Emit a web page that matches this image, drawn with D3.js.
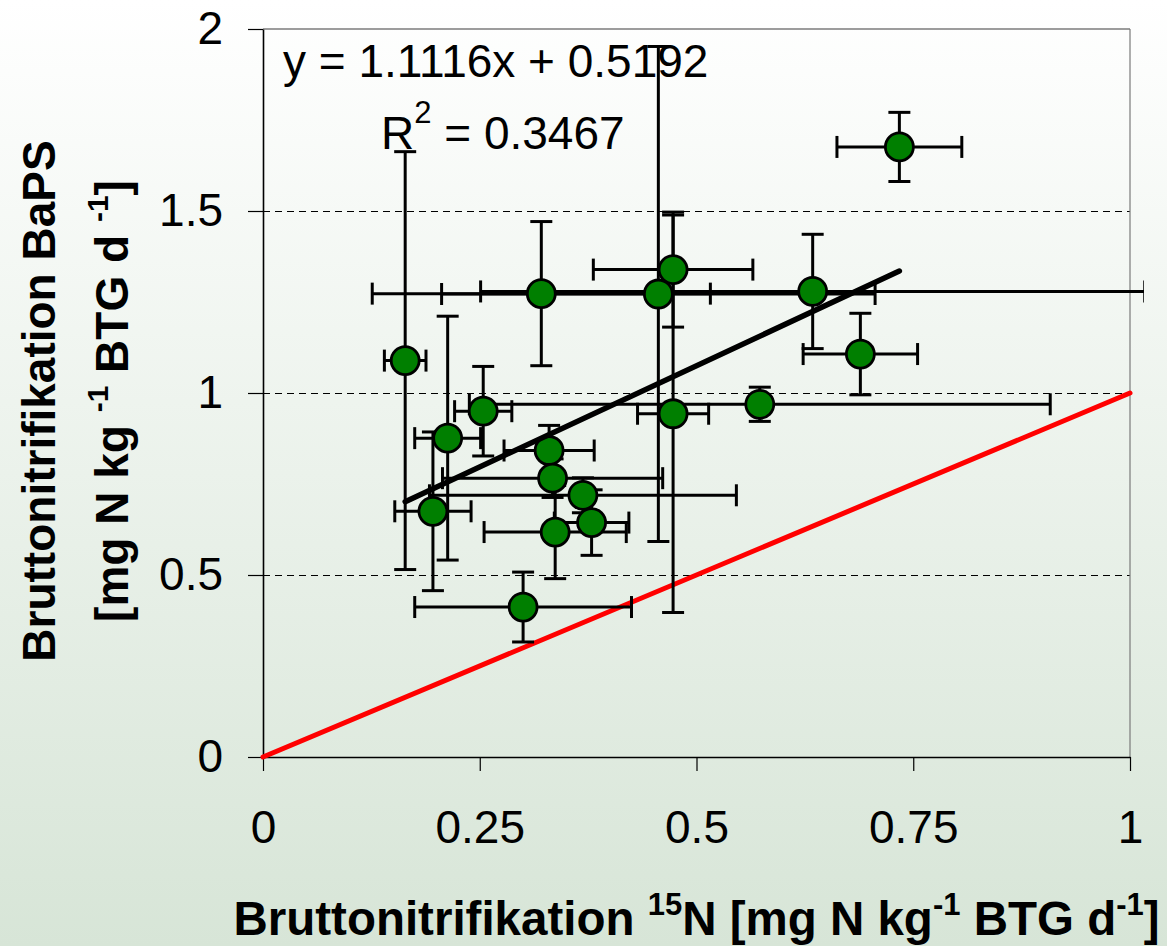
<!DOCTYPE html>
<html>
<head>
<meta charset="utf-8">
<script src="https://d3js.org/d3.v7.min.js"></script>
<style>
  html, body { margin: 0; padding: 0; }
  body { width: 1167px; height: 946px; overflow: hidden; }
  svg text { font-family: "Liberation Sans", Arial, sans-serif; fill: #000; }
</style>
</head>
<body>
<script>
// measured values (x = 15N method, y = BaPS method)
var xVals = [0.734, 0.473, 0.321, 0.456, 0.634, 0.164, 0.689, 0.254, 0.573, 0.473, 0.213, 0.330, 0.334, 0.369, 0.196, 0.379, 0.337, 0.300];
var yVals = [1.676, 1.339, 1.273, 1.272, 1.279, 1.089, 1.107, 0.950, 0.969, 0.943, 0.876, 0.842, 0.766, 0.719, 0.675, 0.644, 0.618, 0.412];
var xErr  = [0.072, 0.092, 0.195, 0.250, 0.383, 0.024, 0.066, 0.033, 0.335, 0.041, 0.038, 0.052, 0.127, 0.177, 0.044, 0.043, 0.082, 0.125];
var yErr  = [0.095, 0.158, 0.198, 0.680, 0.157, 0.574, 0.112, 0.123, 0.047, 0.546, 0.335, 0.069, 0.053, 0.048, 0.218, 0.090, 0.128, 0.096];

var xTicks = [0, 0.25, 0.5, 0.75, 1];
var yTicks = [0, 0.5, 1, 1.5, 2];
var gridVals = [0.5, 1, 1.5];

// trendline y = a*x + b
var slope = 1.1116, intercept = 0.5192, rSquared = "0.3467";
// 1:1 line
var oneToOne = [0, 1];

var W = 1167, H = 946;
var svg = d3.select("body").append("svg")
    .attr("width", W)
    .attr("height", H);

var defs = svg.append("defs");
var grad = defs.append("linearGradient")
    .attr("id", "bg")
    .attr("x1", 0).attr("y1", 0).attr("x2", 0).attr("y2", 1);
grad.append("stop").attr("offset", "0%").attr("stop-color", "#ffffff");
grad.append("stop").attr("offset", "100%").attr("stop-color", "#d7e5d7");

svg.append("rect")
    .attr("width", W).attr("height", H)
    .attr("fill", "url(#bg)");

var pLeft = 263, pRight = 1130, pTop = 29, pBottom = 757;

var x = d3.scaleLinear().domain([0, 1]).range([pLeft, pRight]);
var y = d3.scaleLinear().domain([0, 2]).range([pBottom, pTop]);

// clip for error bars (they run a bit past the right border)
defs.append("clipPath").attr("id", "errclip")
    .append("rect")
    .attr("x", 0).attr("y", 0)
    .attr("width", pRight + 14).attr("height", H);

// dashed gridlines
svg.append("g")
    .attr("shape-rendering", "crispEdges")
    .selectAll("line")
    .data(gridVals)
    .enter()
    .append("line")
    .attr("x1", pLeft).attr("x2", pRight)
    .attr("y1", function (d) { return Math.round(y(d)) + 0.5; })
    .attr("y2", function (d) { return Math.round(y(d)) + 0.5; })
    .attr("stroke", "#000")
    .attr("stroke-width", 1)
    .attr("stroke-dasharray", "7,5");

// plot border top / right
svg.append("line")
    .attr("x1", pLeft).attr("x2", pRight)
    .attr("y1", y(2)).attr("y2", y(2))
    .attr("stroke", "#3a3a3a").attr("stroke-width", 1.2);
svg.append("line")
    .attr("x1", pRight).attr("x2", pRight)
    .attr("y1", y(2)).attr("y2", y(0))
    .attr("stroke", "#7a7a7a").attr("stroke-width", 1.2);

// axes
var yAxis = svg.append("g")
    .attr("transform", "translate(" + pLeft + ",0)")
    .call(d3.axisLeft(y).tickValues(yTicks).tickFormat(d3.format("")).tickSize(15).tickPadding(25).tickSizeOuter(0));
var xAxis = svg.append("g")
    .attr("transform", "translate(0," + pBottom + ")")
    .call(d3.axisBottom(x).tickValues(xTicks).tickFormat(d3.format("")).tickSize(14).tickPadding(39).tickSizeOuter(0));

[yAxis, xAxis].forEach(function (g) {
    g.select(".domain").attr("stroke", "#000").attr("stroke-width", 1.6);
    g.selectAll(".tick line").attr("stroke", "#000").attr("stroke-width", 1.2);
    g.selectAll(".tick text")
        .attr("font-size", 46)
        .attr("font-family", "Liberation Sans, Arial, sans-serif")
        .attr("fill", "#000");
});

// regression equation
svg.append("text")
    .attr("x", 283).attr("y", 77)
    .attr("font-size", 46)
    .text("y = " + slope + "x + " + intercept);
var r2 = svg.append("text")
    .attr("x", 381).attr("y", 149)
    .attr("font-size", 46);
r2.append("tspan").text("R");
r2.append("tspan").attr("font-size", 31).attr("dy", -26).text("2");
r2.append("tspan").attr("dy", 26).text(" = " + rSquared);

// 1:1 line
svg.append("line")
    .attr("x1", x(oneToOne[0])).attr("y1", y(oneToOne[0]))
    .attr("x2", x(oneToOne[1])).attr("y2", y(oneToOne[1]))
    .attr("stroke", "#ff0000")
    .attr("stroke-width", 5)
    .attr("stroke-linecap", "round");

var pts = xVals.map(function (d, i) {
    return { x: d, y: yVals[i], ex: xErr[i], ey: yErr[i] };
});

// error bars
var cap = 11;
var eb = svg.append("g")
    .attr("clip-path", "url(#errclip)")
    .attr("stroke", "#000")
    .attr("stroke-width", 3);
pts.forEach(function (p) {
    var cx = x(p.x), cy = y(p.y);
    var x0 = x(p.x - p.ex), x1 = x(p.x + p.ex);
    var y0 = y(p.y - p.ey), y1 = y(p.y + p.ey);
    eb.append("line").attr("x1", x0).attr("x2", x1).attr("y1", cy).attr("y2", cy);
    eb.append("line").attr("x1", x0).attr("x2", x0).attr("y1", cy - cap).attr("y2", cy + cap);
    eb.append("line").attr("x1", x1).attr("x2", x1).attr("y1", cy - cap).attr("y2", cy + cap);
    eb.append("line").attr("x1", cx).attr("x2", cx).attr("y1", y0).attr("y2", y1);
    eb.append("line").attr("x1", cx - cap).attr("x2", cx + cap).attr("y1", y0).attr("y2", y0);
    eb.append("line").attr("x1", cx - cap).attr("x2", cx + cap).attr("y1", y1).attr("y2", y1);
});

// markers
svg.append("g")
    .selectAll("circle")
    .data(pts)
    .enter()
    .append("circle")
    .attr("cx", function (d) { return x(d.x); })
    .attr("cy", function (d) { return y(d.y); })
    .attr("r", 14)
    .attr("fill", "#007f00")
    .attr("stroke", "#000")
    .attr("stroke-width", 2.8);

// trendline over the data range
var ext = d3.extent(xVals);
svg.append("line")
    .attr("x1", x(ext[0])).attr("y1", y(slope * ext[0] + intercept))
    .attr("x2", x(ext[1])).attr("y2", y(slope * ext[1] + intercept))
    .attr("stroke", "#000")
    .attr("stroke-width", 5.5)
    .attr("stroke-linecap", "round");

// y axis title (two lines)
var yt = svg.append("g")
    .attr("transform", "translate(55," + ((pTop + pBottom) / 2 + 8) + ") rotate(-90)");
yt.append("text")
    .attr("text-anchor", "middle")
    .attr("font-size", 46)
    .attr("font-weight", "bold")
    .text("Bruttonitrifikation BaPS");
var yt2 = yt.append("text")
    .attr("text-anchor", "middle")
    .attr("y", 73)
    .attr("font-size", 46)
    .attr("font-weight", "bold");
yt2.append("tspan").text("[mg N kg ");
yt2.append("tspan").attr("font-size", 30).attr("dy", -20).text("-1");
yt2.append("tspan").attr("dy", 20).text("  BTG d ");
yt2.append("tspan").attr("font-size", 30).attr("dy", -20).text("-1");
yt2.append("tspan").attr("dy", 20).text("]");

// x axis title
var xt = svg.append("text")
    .attr("x", (pLeft + pRight) / 2)
    .attr("y", 935)
    .attr("text-anchor", "middle")
    .attr("font-size", 47.5)
    .attr("font-weight", "bold");
xt.append("tspan").text("Bruttonitrifikation ");
xt.append("tspan").attr("font-size", 31).attr("dy", -20).text("15");
xt.append("tspan").attr("dy", 20).text("N [mg N kg");
xt.append("tspan").attr("font-size", 31).attr("dy", -20).text("-1");
xt.append("tspan").attr("dy", 20).text(" BTG d");
xt.append("tspan").attr("font-size", 31).attr("dy", -20).text("-1");
xt.append("tspan").attr("dy", 20).text("]");
</script>
</body>
</html>
